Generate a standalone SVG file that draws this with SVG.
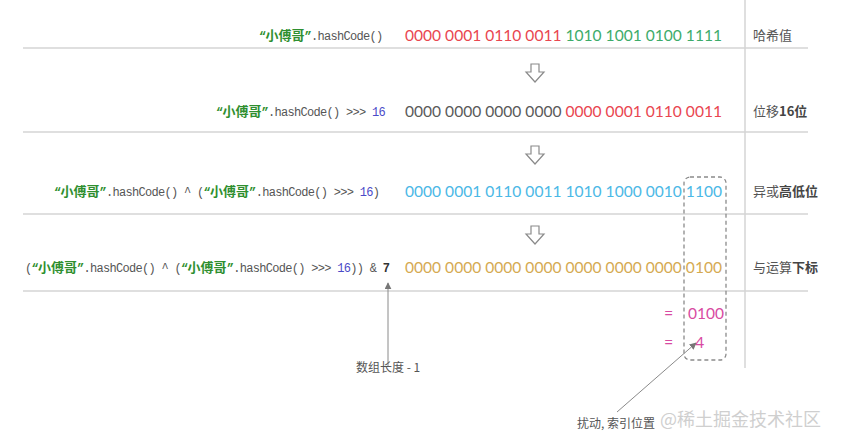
<svg xmlns="http://www.w3.org/2000/svg" width="845" height="444" viewBox="0 0 845 444">
<defs>
<style>
.sep{stroke:#d4d4d4;stroke-width:1.5;fill:none}
.code{font-family:"Liberation Mono",monospace;font-size:12px;letter-spacing:-0.7px;fill:#555}
.cn{font-family:"Noto Sans CJK SC",sans-serif;font-size:13px;font-weight:bold;letter-spacing:0;fill:#2f8f2f}
.q{fill:#2f8f2f;font-weight:bold}
.n16{fill:#4a4ac8}
.bin{font-family:Lato,"Noto Sans",sans-serif;font-size:16px}
.red{fill:#e94650}
.grn{fill:#3dab6a}
.gry{fill:#5a5a5a}
.blu{fill:#4bb8e6}
.gld{fill:#d5aa52}
.pnk{fill:#d84aa2;font-family:Lato,"Noto Sans",sans-serif;font-size:16px}
.lbl{font-family:"Noto Sans CJK SC",sans-serif;font-size:13px;fill:#555}
.lbl .b{font-weight:bold;fill:#444}
.note{font-family:"Noto Sans CJK SC",sans-serif;font-size:12px;fill:#555}
.down{fill:#fff;stroke:#8a8a8a;stroke-width:1.2}
.arr{stroke:#8a8a8a;stroke-width:1;fill:none}
</style>
<marker id="ah" viewBox="0 0 10 10" refX="9" refY="5" markerWidth="7" markerHeight="7" orient="auto-start-reverse" markerUnits="userSpaceOnUse">
<path d="M0,0 L10,5 L0,10 z" fill="#777"/>
</marker>
</defs>
<rect width="845" height="444" fill="#fff"/>

<g id="grid">
<line class="sep" x1="23" y1="48" x2="808" y2="48"/>
<line class="sep" x1="23" y1="132" x2="808" y2="132"/>
<line class="sep" x1="23" y1="214" x2="808" y2="214"/>
<line class="sep" x1="23" y1="291" x2="808" y2="291"/>
<line class="sep" x1="745" y1="0" x2="745" y2="368"/>
</g>

<g id="row1">
<text class="code" x="259" y="40"><tspan class="q">“</tspan><tspan class="cn">小傅哥</tspan><tspan class="q">”</tspan>.hashCode()</text>
<text class="bin" x="405" y="41" textLength="317" lengthAdjust="spacingAndGlyphs"><tspan class="red">0000 0001 0110 0011 </tspan><tspan class="grn">1010 1001 0100 1111</tspan></text>
<text class="lbl" x="753" y="40">哈希值</text>
</g>

<g id="row2">
<text class="code" x="216" y="116"><tspan class="q">“</tspan><tspan class="cn">小傅哥</tspan><tspan class="q">”</tspan>.hashCode() &gt;&gt;&gt; <tspan class="n16">16</tspan></text>
<text class="bin" x="405" y="117" textLength="317" lengthAdjust="spacingAndGlyphs"><tspan class="gry">0000 0000 0000 0000 </tspan><tspan class="red">0000 0001 0110 0011</tspan></text>
<text class="lbl" x="753" y="116">位移<tspan class="b">16位</tspan></text>
</g>

<g id="row3">
<text class="code" x="54" y="196"><tspan class="q">“</tspan><tspan class="cn">小傅哥</tspan><tspan class="q">”</tspan>.hashCode() ^ (<tspan class="q">“</tspan><tspan class="cn">小傅哥</tspan><tspan class="q">”</tspan>.hashCode() &gt;&gt;&gt; <tspan class="n16">16</tspan>)</text>
<text class="bin blu" x="405" y="197" textLength="317" lengthAdjust="spacingAndGlyphs">0000 0001 0110 0011 1010 1000 0010 1100</text>
<text class="lbl" x="753" y="196">异或<tspan class="b">高低位</tspan></text>
</g>

<g id="row4">
<text class="code" x="25" y="272">(<tspan class="q">“</tspan><tspan class="cn">小傅哥</tspan><tspan class="q">”</tspan>.hashCode() ^ (<tspan class="q">“</tspan><tspan class="cn">小傅哥</tspan><tspan class="q">”</tspan>.hashCode() &gt;&gt;&gt; <tspan class="n16">16</tspan>)) &amp; <tspan font-weight="bold" fill="#333">7</tspan></text>
<text class="bin gld" x="405" y="273" textLength="317" lengthAdjust="spacingAndGlyphs">0000 0000 0000 0000 0000 0000 0000 0100</text>
<text class="lbl" x="753" y="272">与运算<tspan class="b">下标</tspan></text>
</g>

<g id="result">
<text class="pnk" x="664" y="319">=</text>
<text class="pnk" x="688" y="319" textLength="36" lengthAdjust="spacingAndGlyphs">0100</text>
<text class="pnk" x="664" y="348">=</text>
<text class="pnk" x="695" y="348">4</text>
</g>

<g id="steps">
<path class="down" d="M531,64 H539 V72 H544 L535,82 L526,72 H531 Z"/>
<path class="down" d="M531,146 H539 V154 H544 L535,164 L526,154 H531 Z"/>
<path class="down" d="M531,226 H539 V234 H544 L535,244 L526,234 H531 Z"/>
</g>

<g id="highlight">
<rect x="684" y="177" width="42" height="183" rx="6" fill="none" stroke="#8a8a8a" stroke-width="1.3" stroke-dasharray="4 3"/>
</g>

<g id="connectors">
<line class="arr" x1="388" y1="366" x2="388" y2="283" marker-end="url(#ah)"/>
<line class="arr" x1="617" y1="412" x2="696" y2="343" marker-end="url(#ah)"/>
</g>

<g id="notes">
<text class="note" x="356" y="372">数组长度 - 1</text>
<text class="note" x="577" y="428">扰动, 索引位置</text>
<text x="660" y="426" font-family="'Noto Sans CJK SC',sans-serif" font-size="18" fill="#cfcfcf">@稀土掘金技术社区</text>
</g>
</svg>
